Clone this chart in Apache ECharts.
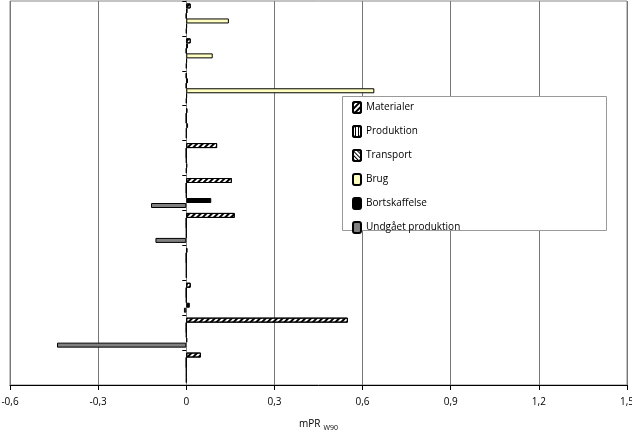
<!DOCTYPE html>
<html>
<head>
<meta charset="utf-8">
<script src="https://cdn.jsdelivr.net/npm/echarts@6/dist/echarts.min.js"></script>
<style>html,body{margin:0;padding:0;background:#fff}#chart{width:632px;height:440px}</style>
</head>
<body>
<div id="chart"></div>
<script>
var categories = ["Råolie", "Naturgas", "Stenkul", "Brunkul", "Al (aluminium)", "Cr (Chrom)", "Cu (kobber)", "Fe (jern)", "Mn (mangan)", "Ni (nikkel)", "Zn (zink)"];
var materialer = [0.015, 0.015, 0, 0.003, 0.105, 0.155, 0.165, 0.003, 0.015, 0.55, 0.05];
var produktion = [0.003, 0.005, 0.005, 0, 0, 0, 0, 0, 0, 0, 0];
var transport = [0, 0, 0, 0, 0, 0, 0, 0, 0, 0, 0];
var brug = [0.145, 0.09, 0.64, 0.006, 0, 0, 0, 0, 0, 0, 0];
var bortskaffelse = [0.002, 0.002, 0.002, 0, 0.003, 0.085, 0, 0, 0.012, 0.003, 0];
var undgaaet = [0, 0, 0, 0, 0, -0.12, -0.105, 0, -0.008, -0.44, 0];
var xTicks = [-0.6, 1.5, 0.3];

var chart = echarts.init(document.getElementById("chart"));
var font = "Open Sans";
function bar(name, data, color, decal) {
  var s = {
    name: name, type: "bar", data: data, barWidth: 5, barGap: "0%",
    itemStyle: { color: color, borderColor: "#000", borderWidth: 1 }
  };
  if (decal) s.itemStyle.decal = decal;
  return s;
}
var diag = { symbol: "rect", color: "#000", dashArrayX: [1, 0], dashArrayY: [2, 2], rotation: -Math.PI / 4, symbolSize: 1 };
var diag2 = { symbol: "rect", color: "#000", dashArrayX: [1, 0], dashArrayY: [1, 2], rotation: Math.PI / 4, symbolSize: 1 };
var vert = { symbol: "rect", color: "#000", dashArrayX: [1, 0], dashArrayY: [1, 2], rotation: Math.PI / 2, symbolSize: 1 };
chart.setOption({
  animation: false,
  aria: { enabled: true, decal: { show: false } },
  textStyle: { fontFamily: font },
  grid: { left: 10, right: 5, top: 1, bottom: 55, containLabel: false, outerBoundsMode: "none", show: true, borderColor: "#888", borderWidth: 1 },
  graphic: [{
    type: "rect", left: 342, top: 96, z: 5,
    shape: { width: 264, height: 134 },
    style: { fill: "#fff", stroke: "#999", lineWidth: 1 }
  }],
  legend: {
    orient: "vertical", left: 352, top: 101, z: 10,
    padding: 0, itemGap: 11, itemWidth: 8, itemHeight: 11,
    textStyle: { fontSize: 10, color: "#000", fontFamily: font }
  },
  xAxis: {
    type: "value", min: xTicks[0], max: xTicks[1], interval: xTicks[2],
    axisLine: { show: true, lineStyle: { color: "#000" } },
    axisTick: { show: true, inside: false, length: 5 },
    splitLine: { lineStyle: { color: "#777" } },
    axisLabel: { fontSize: 10, color: "#000", margin: 12, formatter: function (v) { return String(Math.round(v * 10) / 10).replace(".", ","); } },
    name: "{a|mPR} {b|W90}", nameLocation: "middle", nameGap: 33,
    nameTextStyle: { rich: { a: { fontSize: 10, color: "#000", fontFamily: font }, b: { fontSize: 7, color: "#000", fontFamily: font, padding: [6, 0, 0, 0] } } }
  },
  yAxis: {
    type: "category", data: categories, inverse: true,
    axisLine: { onZero: true, lineStyle: { color: "#888" } },
    axisTick: { show: true, length: 4, lineStyle: { color: "#000" } },
    axisLabel: { fontSize: 10, color: "#000", margin: 20 }
  },
  series: [
    bar("Materialer", materialer, "#fff", diag),
    bar("Produktion", produktion, "#fff", vert),
    bar("Transport", transport, "#fff", diag2),
    bar("Brug", brug, "#ffffc0"),
    bar("Bortskaffelse", bortskaffelse, "#000"),
    bar("Undgået produktion", undgaaet, "#808080")
  ]
});
</script>
</body>
</html>
